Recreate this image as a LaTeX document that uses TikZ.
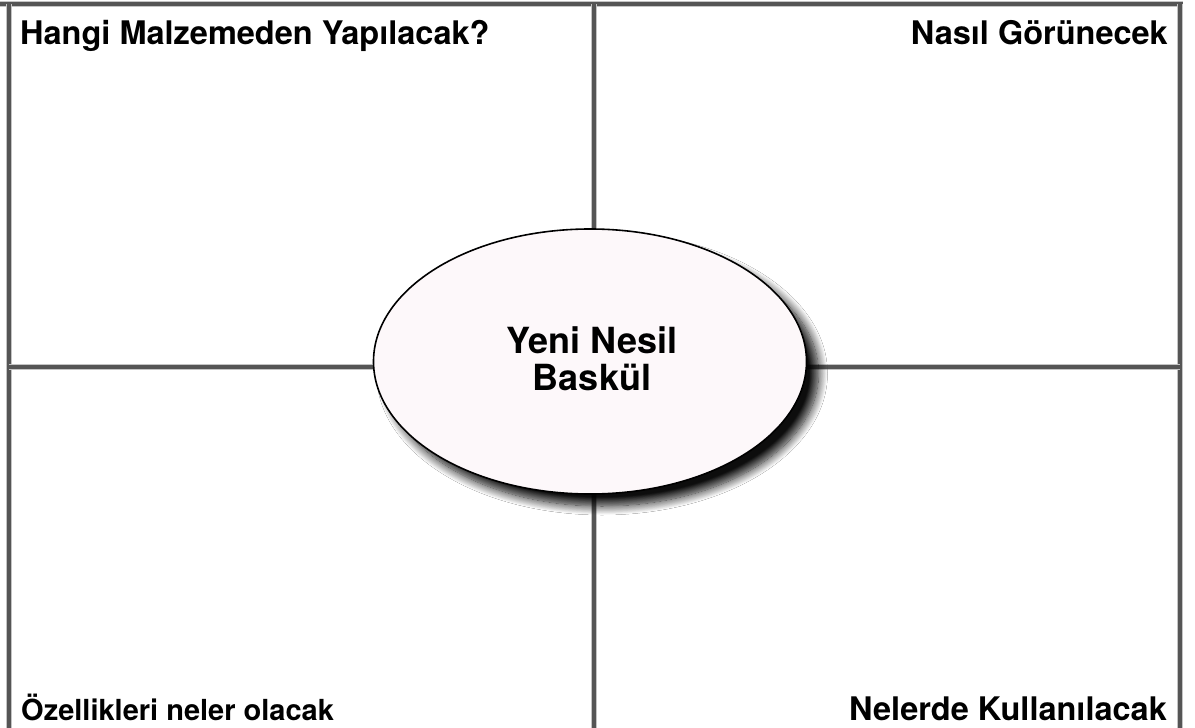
\documentclass[tikz,border=0pt]{standalone}
\usepackage{fontspec}
\setmainfont{TeX Gyre Heros}
\usetikzlibrary{shapes.geometric,shadows.blur}
\definecolor{linegray}{HTML}{555555}
\definecolor{halo}{HTML}{C4C4C4}
\definecolor{ellfill}{HTML}{FDF8FA}
\begin{document}
\begin{tikzpicture}[x=1pt,y=-1pt,
  frameline/.style={draw=linegray, line width=4pt, line join=miter,
    preaction={draw=halo, line width=6pt}},
  cornerlabel/.style={font=\fontsize{32.5}{36}\selectfont\bfseries, inner sep=0pt},
  smalllabel/.style={font=\fontsize{29}{33}\selectfont\bfseries, inner sep=0pt},
  centreell/.style={ellipse, draw=black, line width=1.6pt, fill=ellfill,
    minimum width=433pt, minimum height=265pt, inner sep=0pt,
    blur shadow={shadow xshift=12pt, shadow yshift=-12pt,
      shadow blur radius=9pt, shadow blur steps=14, shadow opacity=95}},
  centretext/.style={align=center, inner sep=0pt,
    font=\fontsize{36}{37}\selectfont\bfseries}]
\useasboundingbox (0,0) rectangle (1195,728);
\fill[white] (0,0) rectangle (1195,728);
% frame coordinates
\coordinate (tl) at (8.5,4);
\coordinate (tr) at (1180,4);
\coordinate (bl) at (8.5,728);
\coordinate (br) at (1180,728);
\coordinate (tm) at (594,4);
\coordinate (bm) at (594,728);
\coordinate (ml) at (8.5,367);
\coordinate (mr) at (1180,367);
\coordinate (t0) at (0,4);
\coordinate (t1) at (1183,4);
% frame
\draw[frameline] (t0) -- (t1);
\draw[frameline] (tl) -- (bl);
\draw[frameline] (tr) -- (br);
\draw[frameline] (tm) -- (bm);
\draw[frameline] (ml) -- (mr);
% centre ellipse
\node[centreell] (c) at (590,361.5) {};
\node[centretext] (ct) at (592,358.3) {Yeni Nesil\\Baskül};
% corner labels
\node[cornerlabel, anchor=base west] (q1) at (20,44) {Hangi Malzemeden Yapılacak?};
\node[cornerlabel, anchor=base east] (q2) at (1168,44) {Nasıl Görünecek};
\node[smalllabel, anchor=base west] (q3) at (21,720) {Özellikleri neler olacak};
\node[cornerlabel, anchor=base east] (q4) at (1167,720) {Nelerde Kullanılacak};
\end{tikzpicture}
\end{document}
